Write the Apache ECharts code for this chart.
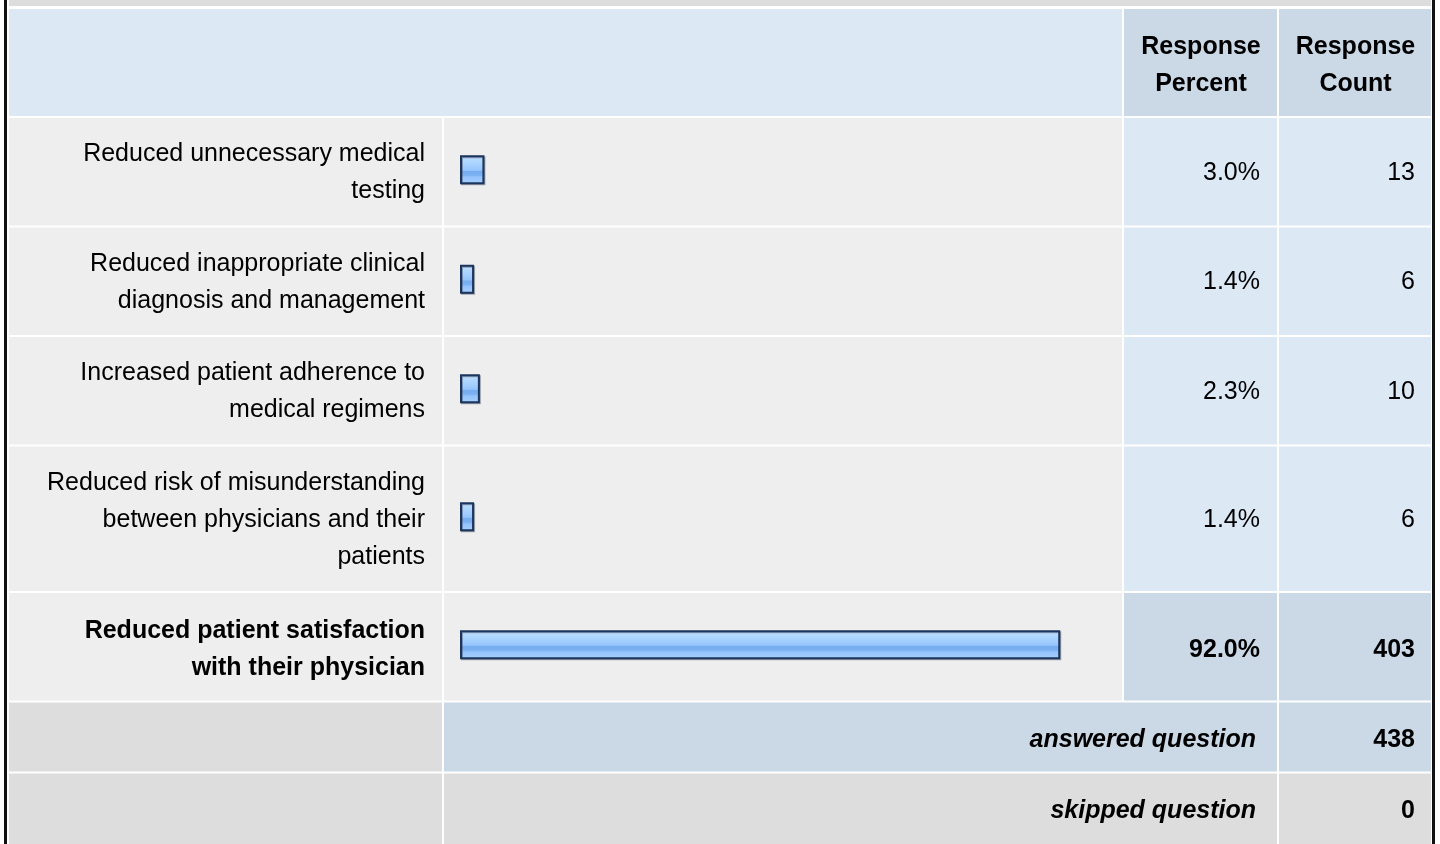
<!DOCTYPE html>
<html><head><meta charset="utf-8">
<script src="https://cdn.jsdelivr.net/npm/echarts@6/dist/echarts.min.js"></script>
<style>html,body{margin:0;padding:0;background:#fff}#c{width:1440px;height:844px}</style>
</head><body><div id="c"></div>
<script>
// ---- data ----
const categories = [
  "Reduced unnecessary medical\ntesting",
  "Reduced inappropriate clinical\ndiagnosis and management",
  "Increased patient adherence to\nmedical regimens",
  "Reduced risk of misunderstanding\nbetween physicians and their\npatients",
  "Reduced patient satisfaction\nwith their physician"
];
const percents = [3.0, 1.4, 2.3, 1.4, 92.0];
const counts = [13, 6, 10, 6, 403];
const headerLabels = ["Response\nPercent", "Response\nCount"];
const summaryLabels = ["answered question", "skipped question"];
const summaryValues = [438, 0];

// ---- layout / style ----
const FONT = '"Liberation Sans", Arial, Helvetica, sans-serif';
const FS = 25, LH = 37;
const colL = [9, 444, 1124, 1279], colR = [442, 1122, 1277, 1431];
const GAP = 2;
const C = {light:'#eeeeee', gray:'#dddddd', blue:'#dde8f5', blueDark:'#cbd8e6', ink:'#000000'};

const g = [];
function rect(x1, x2, y, h, fill) {
  g.push({type:'rect', silent:true, shape:{x:x1, y:y, width:x2 - x1, height:h}, style:{fill:fill}});
}
function text(str, x, y, align, opts) {
  const bold = opts && opts.fontWeight === 'bold';
  g.push({type:'text', silent:true, x:x, y:y + (bold ? 3 : 1), style:Object.assign({
    text:str, fill:C.ink, fontFamily:FONT, fontSize:FS, lineHeight:LH,
    align:align, verticalAlign:'middle', textAlign:align, textVerticalAlign:'middle'
  }, opts || {})});
}

// frame
rect(colL[0], colR[3], 0, 6, C.gray);
rect(4, 7, 0, 844, '#111');
rect(1432, 1435, 0, 844, '#111');

// header
let y = 9;
const headH = 107;
rect(colL[0], colR[1], y, headH, C.blue);
rect(colL[2], colR[2], y, headH, C.blueDark);
rect(colL[3], colR[3], y, headH, C.blueDark);
text(headerLabels[0], (colL[2] + colR[2]) / 2 + 0.5, y + headH / 2, 'center', {fontWeight:'bold'});
text(headerLabels[1], (colL[3] + colR[3]) / 2 + 0.5, y + headH / 2, 'center', {fontWeight:'bold'});
y += headH + GAP;

const maxIdx = counts.indexOf(Math.max.apply(null, counts));
const grids = [], xAxes = [], yAxes = [], series = [];
const barGrad = new echarts.graphic.LinearGradient(0, 0, 0, 1, [
  {offset:0, color:'#c8e4ff'}, {offset:0.18, color:'#b2d8ff'}, {offset:0.38, color:'#a2ceff'},
  {offset:0.52, color:'#96c4fc'}, {offset:0.56, color:'#76acf0'}, {offset:0.7, color:'#7eb4f4'},
  {offset:0.74, color:'#94c2fb'}, {offset:1, color:'#a6d0ff'}
]);

categories.forEach(function (cat, i) {
  const lines = cat.split('\n').length;
  const h = 33.5 + lines * LH;
  const isMax = i === maxIdx;
  rect(colL[0], colR[0], y, h, C.light);
  rect(colL[1], colR[1], y, h, C.light);
  rect(colL[2], colR[2], y, h, isMax ? C.blueDark : C.blue);
  rect(colL[3], colR[3], y, h, isMax ? C.blueDark : C.blue);
  const cy = y + h / 2;
  const fw = isMax ? {fontWeight:'bold'} : {};
  text(cat, colR[0] - 17, cy, 'right', fw);
  text(percents[i].toFixed(1) + '%', colR[2] - 17, cy, 'right', fw);
  text(String(counts[i]), colR[3] - 16, cy, 'right', fw);

  grids.push({left:460, top:y, width:647, height:h, containLabel:false});
  xAxes.push({type:'value', gridIndex:i, min:0, max:100, show:false});
  yAxes.push({type:'category', gridIndex:i, data:[cat], show:false});
  series.push({
    type:'custom', xAxisIndex:i, yAxisIndex:i, silent:true, z:5,
    data:[[percents[i], 0]],
    renderItem: function (params, api) {
      const v = api.value(0);
      const p0 = api.coord([0, 0]);
      const p1 = api.coord([v, 0]);
      const w = p1[0] - p0[0] + 5;
      const bh = 29;
      const top = p0[1] - bh / 2 - 2;
      return {type:'rect', shape:{x:p0[0] + 1, y:top + 1, width:w - 2, height:bh - 2},
        style:{fill:barGrad, stroke:'#1c355c', lineWidth:2,
          shadowColor:'rgba(60,70,90,0.45)', shadowOffsetX:1, shadowOffsetY:1, shadowBlur:0.01}};
    }
  });
  y += h + GAP;
});

// summary rows
const sumH = [69, 844 - (y + 69 + GAP)];
summaryLabels.forEach(function (lab, k) {
  const h = sumH[k];
  const mid = k === 0 ? C.blueDark : C.gray;
  rect(colL[0], colR[0], y, h, C.gray);
  rect(colL[1], colR[2], y, h, mid);
  rect(colL[3], colR[3], y, h, mid);
  const cy = k === 0 ? y + h / 2 : y + 35;
  text(lab, colR[2] - 21, cy, 'right', {fontWeight:'bold', fontStyle:'italic'});
  text(String(summaryValues[k]), colR[3] - 16, cy, 'right', {fontWeight:'bold'});
  y += h + GAP;
});

const chart = echarts.init(document.getElementById('c'), null, {renderer:'canvas'});
chart.setOption({
  backgroundColor:'#ffffff',
  animation:false,
  grid:grids, xAxis:xAxes, yAxis:yAxes, series:series,
  graphic:{elements:g}
});
</script>
</body></html>
